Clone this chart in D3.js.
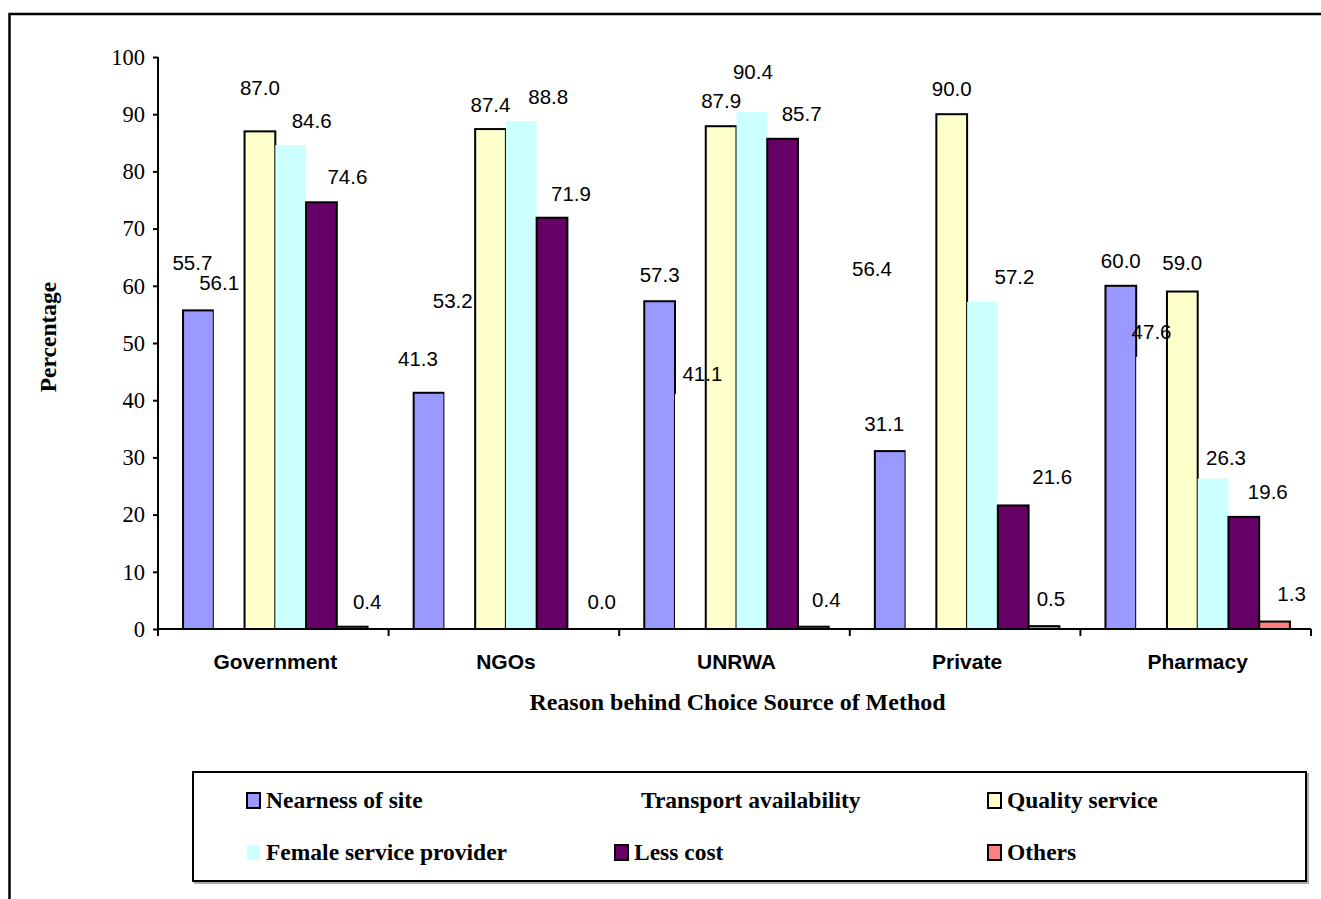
<!DOCTYPE html>
<html>
<head>
<meta charset="utf-8">
<script src="https://cdn.jsdelivr.net/npm/d3@7"></script>
<style>
  html, body { margin: 0; padding: 0; background: #fff; }
  svg { display: block; }
</style>
</head>
<body>
<svg id="chart" width="1321" height="899"></svg>
<script>
// Source of method by reason for choice (percent)
const categories = ["Government", "NGOs", "UNRWA", "Private", "Pharmacy"];
const seriesNames = ["Nearness of site", "Transport availability", "Quality service",
                     "Female service provider", "Less cost", "Others"];
const nearness  = [55.7, 41.3, 57.3, 31.1, 60.0];
const transport = [56.1, 53.2, 41.1, 56.4, 47.6];
const quality   = [87.0, 87.4, 87.9, 90.0, 59.0];
const female    = [84.6, 88.8, 90.4, 57.2, 26.3];
const lessCost  = [74.6, 71.9, 85.7, 21.6, 19.6];
const others    = [0.4, 0.0, 0.4, 0.5, 1.3];
const yTicks    = [0, 10, 20, 30, 40, 50, 60, 70, 80, 90, 100];

const seriesValues = [nearness, transport, quality, female, lessCost, others];

// Fill / outline per series
const fills   = ["#9999FF", "#FFFFFF", "#FFFFCC", "#CCFFFF", "#660066", "#FF8080"];
const strokes = ["#000", "none", "#000", "none", "#000", "#000"];

// Hand-placed data label offsets [dx, dy] per series, per category
const labelNudge = [
  [[-6, -24], [-11, -10], [0, -2], [-6, -3], [0, -1]],
  [[-10, -1], [-7, 0], [12, 4], [-49, -14], [0, -1]],
  [[0, -20], [0, 0], [0, -1], [0, -1], [0, -5]],
  [[21, 0], [27, 0], [1, -16], [32, -1], [13, 3]],
  [[26, -1], [19, 0], [19, -1], [39, -5], [24, -1]],
  [[15, -1], [19, -3], [13, -3], [7, -3], [17, -4]]
];

const svg = d3.select("#chart");
const SANS = "'Liberation Sans', Arial, sans-serif";
const SERIF = "'Liberation Serif', 'Times New Roman', serif";

// Outer frame (runs off the right and bottom edges)
svg.append("rect")
  .attr("x", 9.5).attr("y", 14)
  .attr("width", 1400).attr("height", 1000)
  .attr("fill", "none").attr("stroke", "#000").attr("stroke-width", 2.5);

const plot = { left: 158, right: 1311, top: 57, bottom: 629 };

const x0 = d3.scaleBand().domain(categories).range([plot.left, plot.right]).padding(0);
const x1 = d3.scaleBand().domain(d3.range(seriesNames.length))
  .range([0, x0.bandwidth()]).paddingInner(0).paddingOuter(0.75);
const y = d3.scaleLinear().domain([0, 100]).range([plot.bottom, plot.top]);

// Bars
const groups = svg.append("g").selectAll("g")
  .data(categories)
  .join("g")
  .attr("transform", c => `translate(${x0(c) + 2},0)`);

seriesNames.forEach((name, si) => {
  groups.append("rect")
    .attr("x", (c, ci) => x1(si))
    .attr("y", (c, ci) => y(seriesValues[si][ci]))
    .attr("width", x1.bandwidth())
    .attr("height", (c, ci) => y(0) - y(seriesValues[si][ci]))
    .attr("fill", fills[si])
    .attr("stroke", strokes[si])
    .attr("stroke-width", 2);
});

// Axes
const yAxis = d3.axisLeft(y).tickValues(yTicks).tickSize(5).tickPadding(8).tickFormat(d3.format("d"));
const gy = svg.append("g").attr("transform", `translate(${plot.left},0)`).call(yAxis);
gy.select(".domain").attr("stroke", "#000").attr("stroke-width", 2).attr("d", `M0,${plot.top}V${plot.bottom}`);
gy.selectAll(".tick line").attr("stroke", "#000").attr("stroke-width", 2);
gy.selectAll(".tick text").attr("font-family", SERIF).attr("font-size", 22.5).attr("fill", "#000");

const boundaries = categories.map(c => x0(c)).concat([plot.right]);
const gx = svg.append("g");
gx.append("line")
  .attr("x1", plot.left).attr("x2", plot.right)
  .attr("y1", plot.bottom).attr("y2", plot.bottom)
  .attr("stroke", "#000").attr("stroke-width", 2);
gx.selectAll("line.tk").data(boundaries).join("line")
  .attr("class", "tk")
  .attr("x1", d => d).attr("x2", d => d)
  .attr("y1", plot.bottom).attr("y2", plot.bottom + 7)
  .attr("stroke", "#000").attr("stroke-width", 2);
gx.selectAll("text").data(categories).join("text")
  .attr("x", c => x0(c) + x0.bandwidth() / 2 + 2)
  .attr("y", 669)
  .attr("text-anchor", "middle")
  .attr("font-family", SANS).attr("font-weight", "bold").attr("font-size", 21)
  .text(c => c);

// Data labels
seriesNames.forEach((name, si) => {
  groups.append("text")
    .attr("x", (c, ci) => x1(si) + x1.bandwidth() / 2 + labelNudge[si][ci][0])
    .attr("y", (c, ci) => y(seriesValues[si][ci]) - 24 + labelNudge[si][ci][1])
    .attr("dy", "0.35em")
    .attr("text-anchor", "middle")
    .attr("font-family", SANS).attr("font-size", 20.5)
    .attr("fill", "#000")
    .text((c, ci) => seriesValues[si][ci].toFixed(1));
});

// Axis titles
svg.append("text")
  .attr("x", (plot.left + plot.right) / 2 + 3).attr("y", 710)
  .attr("text-anchor", "middle")
  .attr("font-family", SERIF).attr("font-weight", "bold").attr("font-size", 24)
  .text("Reason behind Choice Source of Method");

svg.append("text")
  .attr("transform", "translate(56,337) rotate(-90)")
  .attr("text-anchor", "middle")
  .attr("font-family", SERIF).attr("font-weight", "bold").attr("font-size", 23.5)
  .text("Percentage");

// Legend
const legend = svg.append("g");
legend.append("rect")
  .attr("x", 195).attr("y", 774).attr("width", 1113).attr("height", 109)
  .attr("fill", "none").attr("stroke", "#aaa").attr("stroke-width", 2);
legend.append("rect")
  .attr("x", 193).attr("y", 772).attr("width", 1113).attr("height", 109)
  .attr("fill", "#fff").attr("stroke", "#000").attr("stroke-width", 2);

const legendCols = [[247, 622, 988], [247, 615, 988]];
const rowY = [800, 852];
const items = legend.selectAll("g.item")
  .data(seriesNames)
  .join("g")
  .attr("class", "item")
  .attr("transform", (d, i) => {
    const r = Math.floor(i / 3);
    return `translate(${legendCols[r][i % 3]},${rowY[r]})`;
  });
items.append("rect")
  .attr("x", 0).attr("y", -7).attr("width", 13).attr("height", 15)
  .attr("fill", (d, i) => fills[i])
  .attr("stroke", (d, i) => strokes[i])
  .attr("stroke-width", 2);
items.append("text")
  .attr("x", 19).attr("dy", "0.35em")
  .attr("font-family", SERIF).attr("font-weight", "bold").attr("font-size", 23.5)
  .text(d => d);
</script>
</body>
</html>
